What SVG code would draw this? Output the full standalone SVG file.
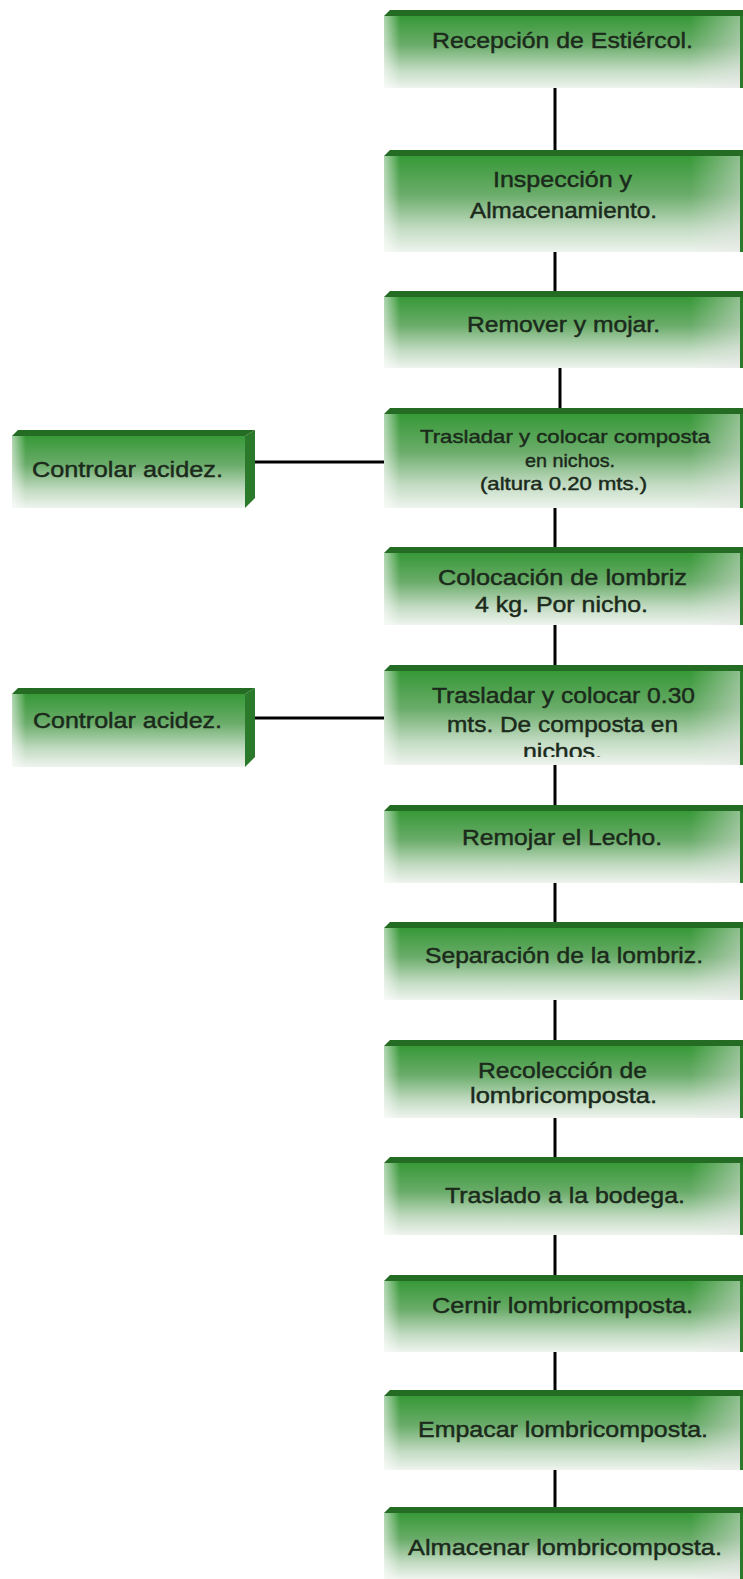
<svg xmlns="http://www.w3.org/2000/svg" width="743" height="1579" viewBox="0 0 743 1579">
<style>
.face{fill:url(#gFace)}
.edgeL{fill:url(#gEdgeL)}
.edgeR{fill:url(#gEdgeR)}
.bar{fill:#246c24}
.side{fill:#2b7a2b}
.t{font-family:"Liberation Sans",Arial,sans-serif;font-size:22px;fill:#1b2a1b;stroke:#1b2a1b;stroke-width:0.45}
.s{font-size:19px}
.c{stroke:#000;stroke-width:3;fill:none}
</style>
<defs>
<linearGradient id="gFace" x1="0" y1="0" x2="0" y2="1">
<stop offset="0" stop-color="#379937"/>
<stop offset="0.4" stop-color="#6aac6a"/>
<stop offset="0.75" stop-color="#c2dbc2"/>
<stop offset="1" stop-color="#eef4ee"/>
</linearGradient>
<linearGradient id="gEdgeL" x1="0" y1="0" x2="1" y2="0">
<stop offset="0" stop-color="#ffffff" stop-opacity="0.6"/>
<stop offset="1" stop-color="#ffffff" stop-opacity="0"/>
</linearGradient>
<linearGradient id="gEdgeR" x1="0" y1="0" x2="1" y2="0">
<stop offset="0" stop-color="#e6e6e6" stop-opacity="0"/>
<stop offset="1" stop-color="#e6e6e6" stop-opacity="0.5"/>
</linearGradient>
<clipPath id="clip6"><rect x="384" y="665" width="359" height="92"/></clipPath>
</defs>

<g id="connectors">
<line class="c" x1="555" y1="87" x2="555" y2="151"/>
<line class="c" x1="555" y1="252" x2="555" y2="295"/>
<line class="c" x1="560" y1="368" x2="560" y2="413"/>
<line class="c" x1="555" y1="508" x2="555" y2="553"/>
<line class="c" x1="555" y1="625" x2="555" y2="672"/>
<line class="c" x1="555" y1="765" x2="555" y2="812"/>
<line class="c" x1="555" y1="868" x2="555" y2="929"/>
<line class="c" x1="555" y1="998" x2="555" y2="1047"/>
<line class="c" x1="555" y1="1117" x2="555" y2="1163"/>
<line class="c" x1="555" y1="1233" x2="555" y2="1280"/>
<line class="c" x1="555" y1="1350" x2="555" y2="1397"/>
<line class="c" x1="555" y1="1467" x2="555" y2="1513"/>
<line class="c" x1="245" y1="462" x2="384" y2="462"/>
<line class="c" x1="245" y1="718" x2="384" y2="718"/>
</g>

<g id="n1">
<rect class="face" x="384" y="16" width="359" height="72"/>
<rect class="edgeL" x="384" y="16" width="16" height="72"/>
<rect class="edgeR" x="690" y="16" width="50" height="72"/>
<polygon class="bar" points="390,10 743,10 743,16 384,16"/>
<rect class="side" x="740" y="16" width="3" height="72"/>
<text class="t" x="432" y="48" textLength="261" lengthAdjust="spacingAndGlyphs">Recepción de Estiércol.</text>
</g>

<g id="n2">
<rect class="face" x="384" y="156" width="359" height="96"/>
<rect class="edgeL" x="384" y="156" width="16" height="96"/>
<rect class="edgeR" x="690" y="156" width="50" height="96"/>
<polygon class="bar" points="390,150 743,150 743,156 384,156"/>
<rect class="side" x="740" y="156" width="3" height="96"/>
<text class="t" x="493" y="187" textLength="139" lengthAdjust="spacingAndGlyphs">Inspección y</text>
<text class="t" x="470" y="218" textLength="187" lengthAdjust="spacingAndGlyphs">Almacenamiento.</text>
</g>

<g id="n3">
<rect class="face" x="384" y="297" width="359" height="71"/>
<rect class="edgeL" x="384" y="297" width="16" height="71"/>
<rect class="edgeR" x="690" y="297" width="50" height="71"/>
<polygon class="bar" points="390,291 743,291 743,297 384,297"/>
<rect class="side" x="740" y="297" width="3" height="71"/>
<text class="t" x="467" y="332" textLength="193" lengthAdjust="spacingAndGlyphs">Remover y mojar.</text>
</g>

<g id="n4">
<rect class="face" x="384" y="414" width="359" height="94"/>
<rect class="edgeL" x="384" y="414" width="16" height="94"/>
<rect class="edgeR" x="690" y="414" width="50" height="94"/>
<polygon class="bar" points="390,408 743,408 743,414 384,414"/>
<rect class="side" x="740" y="414" width="3" height="94"/>
<text class="t s" x="420" y="443" textLength="290" lengthAdjust="spacingAndGlyphs">Trasladar y colocar composta</text>
<text class="t s" x="525" y="467" textLength="90" lengthAdjust="spacingAndGlyphs">en nichos.</text>
<text class="t s" x="480" y="490" textLength="167" lengthAdjust="spacingAndGlyphs">(altura 0.20 mts.)</text>
</g>

<g id="n5">
<rect class="face" x="384" y="553" width="359" height="72"/>
<rect class="edgeL" x="384" y="553" width="16" height="72"/>
<rect class="edgeR" x="690" y="553" width="50" height="72"/>
<polygon class="bar" points="390,547 743,547 743,553 384,553"/>
<rect class="side" x="740" y="553" width="3" height="72"/>
<text class="t" x="438" y="585" textLength="249" lengthAdjust="spacingAndGlyphs">Colocación de lombriz</text>
<text class="t" x="475" y="612" textLength="173" lengthAdjust="spacingAndGlyphs">4 kg. Por nicho.</text>
</g>

<g id="n6">
<rect class="face" x="384" y="671" width="359" height="94"/>
<rect class="edgeL" x="384" y="671" width="16" height="94"/>
<rect class="edgeR" x="690" y="671" width="50" height="94"/>
<polygon class="bar" points="390,665 743,665 743,671 384,671"/>
<rect class="side" x="740" y="671" width="3" height="94"/>
<text class="t" x="432" y="703" textLength="263" lengthAdjust="spacingAndGlyphs">Trasladar y colocar 0.30</text>
<text class="t" x="447" y="732" textLength="231" lengthAdjust="spacingAndGlyphs">mts. De composta en</text>
<text class="t" x="523" y="759" textLength="79" lengthAdjust="spacingAndGlyphs" clip-path="url(#clip6)">nichos.</text>
</g>

<g id="n7">
<rect class="face" x="384" y="811" width="359" height="72"/>
<rect class="edgeL" x="384" y="811" width="16" height="72"/>
<rect class="edgeR" x="690" y="811" width="50" height="72"/>
<polygon class="bar" points="390,805 743,805 743,811 384,811"/>
<rect class="side" x="740" y="811" width="3" height="72"/>
<text class="t" x="462" y="845" textLength="200" lengthAdjust="spacingAndGlyphs">Remojar el Lecho.</text>
</g>

<g id="n8">
<rect class="face" x="384" y="928" width="359" height="72"/>
<rect class="edgeL" x="384" y="928" width="16" height="72"/>
<rect class="edgeR" x="690" y="928" width="50" height="72"/>
<polygon class="bar" points="390,922 743,922 743,928 384,928"/>
<rect class="side" x="740" y="928" width="3" height="72"/>
<text class="t" x="425" y="963" textLength="278" lengthAdjust="spacingAndGlyphs">Separación de la lombriz.</text>
</g>

<g id="n9">
<rect class="face" x="384" y="1046" width="359" height="72"/>
<rect class="edgeL" x="384" y="1046" width="16" height="72"/>
<rect class="edgeR" x="690" y="1046" width="50" height="72"/>
<polygon class="bar" points="390,1040 743,1040 743,1046 384,1046"/>
<rect class="side" x="740" y="1046" width="3" height="72"/>
<text class="t" x="478" y="1078" textLength="169" lengthAdjust="spacingAndGlyphs">Recolección de</text>
<text class="t" x="470" y="1103" textLength="187" lengthAdjust="spacingAndGlyphs">lombricomposta.</text>
</g>

<g id="n10">
<rect class="face" x="384" y="1163" width="359" height="72"/>
<rect class="edgeL" x="384" y="1163" width="16" height="72"/>
<rect class="edgeR" x="690" y="1163" width="50" height="72"/>
<polygon class="bar" points="390,1157 743,1157 743,1163 384,1163"/>
<rect class="side" x="740" y="1163" width="3" height="72"/>
<text class="t" x="445" y="1203" textLength="240" lengthAdjust="spacingAndGlyphs">Traslado a la bodega.</text>
</g>

<g id="n11">
<rect class="face" x="384" y="1281" width="359" height="71"/>
<rect class="edgeL" x="384" y="1281" width="16" height="71"/>
<rect class="edgeR" x="690" y="1281" width="50" height="71"/>
<polygon class="bar" points="390,1275 743,1275 743,1281 384,1281"/>
<rect class="side" x="740" y="1281" width="3" height="71"/>
<text class="t" x="432" y="1313" textLength="261" lengthAdjust="spacingAndGlyphs">Cernir lombricomposta.</text>
</g>

<g id="n12">
<rect class="face" x="384" y="1396" width="359" height="74"/>
<rect class="edgeL" x="384" y="1396" width="16" height="74"/>
<rect class="edgeR" x="690" y="1396" width="50" height="74"/>
<polygon class="bar" points="390,1390 743,1390 743,1396 384,1396"/>
<rect class="side" x="740" y="1396" width="3" height="74"/>
<text class="t" x="418" y="1437" textLength="290" lengthAdjust="spacingAndGlyphs">Empacar lombricomposta.</text>
</g>

<g id="n13">
<rect class="face" x="384" y="1513" width="359" height="66"/>
<rect class="edgeL" x="384" y="1513" width="16" height="66"/>
<rect class="edgeR" x="690" y="1513" width="50" height="66"/>
<polygon class="bar" points="390,1507 743,1507 743,1513 384,1513"/>
<rect class="side" x="740" y="1513" width="3" height="66"/>
<text class="t" x="408" y="1555" textLength="314" lengthAdjust="spacingAndGlyphs">Almacenar lombricomposta.</text>
</g>

<g id="l1">
<rect class="face" x="12" y="436" width="233" height="72"/>
<rect class="edgeL" x="12" y="436" width="14" height="72"/>
<polygon class="bar" points="18,430 255,430 245,436 12,436"/>
<polygon class="side" points="245,436 255,430 255,498 245,508"/>
<text class="t" x="32" y="477" textLength="191" lengthAdjust="spacingAndGlyphs">Controlar acidez.</text>
</g>

<g id="l2">
<rect class="face" x="12" y="694" width="233" height="73"/>
<rect class="edgeL" x="12" y="694" width="14" height="73"/>
<polygon class="bar" points="18,688 255,688 245,694 12,694"/>
<polygon class="side" points="245,694 255,688 255,757 245,767"/>
<text class="t" x="33" y="728" textLength="189" lengthAdjust="spacingAndGlyphs">Controlar acidez.</text>
</g>
</svg>
